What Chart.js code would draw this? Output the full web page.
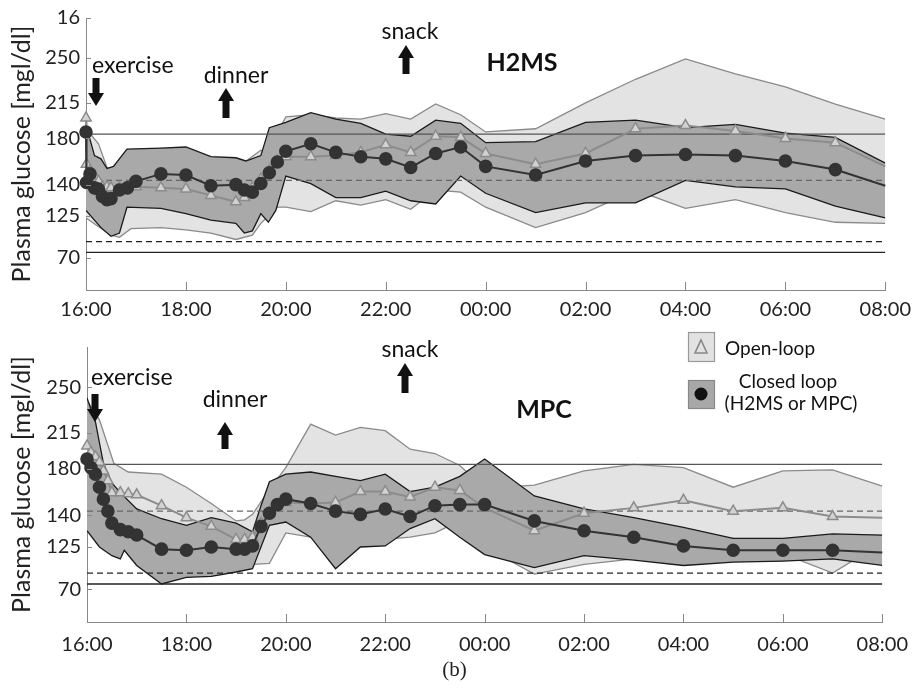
<!DOCTYPE html>
<html>
<head>
<meta charset="utf-8">
<script src="https://cdn.jsdelivr.net/npm/chart.js@4.4.1/dist/chart.umd.min.js"></script>
<style>
  body { margin: 0; background: #fff; }
  #wrap { position: relative; width: 919px; height: 689px; }
  canvas { position: absolute; left: 0; }
  #topChart { top: 0; }
  #bottomChart { top: 320px; }
  #caption { position: absolute; top: 657px; left: -5px; width: 919px; text-align: center;
             font: 21px 'Liberation Serif', serif; color: #222; }
</style>
</head>
<body>
<div id="wrap">
  <canvas id="topChart" width="919" height="320"></canvas>
  <canvas id="bottomChart" width="919" height="340"></canvas>
  <div id="caption">(b)</div>
</div>
<script>
// hours after 16:00
const h2msTimes = [0, 0.01, 0.08, 0.17, 0.25, 0.33, 0.42, 0.5, 0.67, 0.83, 1, 1.5, 2, 2.5, 3, 3.17, 3.33, 3.5, 3.67, 3.83, 4, 4.5, 5, 5.5, 6, 6.5, 7, 7.5, 8, 9, 10, 11, 12, 13, 14, 15, 16];
const h2msClosed = [182, 135, 143, 130, 129, 122, 119, 120, 128, 130, 136, 143, 142, 132, 133, 128, 126, 134, 144, 154, 164, 171, 163, 159, 157, 149, 162, 168, 150, 142, 155, 160, 161, 160, 155, 147, 132];
const h2msOpen = [195, 152, 146, 141, 136, 131, 131, 130, 130, 130, 131, 130, 129, 123, 117, 121, 130, 138, 146, 155, 159, 159, 160, 163, 170, 163, 178, 177, 162, 152, 162, 185, 188, 183, 176, 172, 150];

const h2msClosedHiT = [0, 0.05, 0.17, 0.3, 0.42, 0.55, 0.82, 1.5, 2, 2.5, 3, 3.2, 3.5, 3.67, 4, 4.5, 5, 5.5, 6, 6.5, 7, 7.5, 8, 9, 10, 11, 12, 13, 14, 15, 16];
const h2msClosedHi = [174, 180, 160, 157, 148, 150, 166, 167, 168, 159, 158, 155, 160, 186, 191, 200, 194, 190, 180, 178, 193, 190, 172, 173, 191, 193, 186, 189, 181, 177, 153];
const h2msClosedLoT = [0, 0.3, 0.5, 0.67, 0.82, 1.5, 2, 2.5, 3, 3.17, 3.33, 3.5, 3.65, 3.8, 4, 4.5, 5, 5.5, 6, 6.5, 7, 7.5, 8, 9, 10, 11, 12, 13, 14, 15, 16];
const h2msClosedLo = [109, 93, 85, 88, 112, 111, 106, 100, 97, 88, 90, 106, 98, 109, 141, 134, 121, 121, 127, 118, 115, 141, 125, 107, 116, 116, 137, 131, 129, 113, 102];
const h2msOpenHiT = [0, 0.25, 0.42, 0.67, 1, 1.5, 2, 2.5, 3, 3.5, 3.67, 3.83, 4, 4.5, 5, 5.5, 6, 6.5, 7, 7.5, 8, 9, 10, 11, 12, 13, 14, 15, 16];
const h2msOpenHi = [185, 171, 149, 148, 158, 160, 158, 149, 148, 165, 161, 181, 196, 198, 195, 194, 199, 194, 208, 198, 182, 185, 209, 231, 250, 236, 224, 208, 194];
const h2msOpenLoT = [0, 0.5, 0.67, 0.9, 1.5, 2, 2.5, 3, 3.33, 3.5, 3.83, 4, 4.5, 5, 5.5, 6, 6.5, 7, 7.5, 8, 9, 10, 11, 12, 13, 14, 15, 16];
const h2msOpenLo = [102, 86, 84, 92, 93, 91, 88, 82, 86, 97, 112, 112, 108, 118, 114, 119, 110, 128, 126, 112, 93, 107, 128, 111, 119, 107, 98, 97];

const mpcTimes = [0, 0.08, 0.17, 0.25, 0.33, 0.42, 0.5, 0.67, 0.83, 1, 1.5, 2, 2.5, 3, 3.17, 3.33, 3.5, 3.67, 3.83, 4, 4.5, 5, 5.5, 6, 6.5, 7, 7.5, 8, 9, 10, 11, 12, 13, 14, 15, 16];
const mpcClosed = [185, 177, 171, 159, 148, 137, 126, 120, 118, 115, 102, 101, 104, 102, 102, 105, 123, 135, 143, 148, 144, 137, 134, 139, 132, 142, 143, 143, 128, 119, 113, 105, 101, 101, 101, 99];
const mpcOpen = [197, 191, 187, 182, 174, 165, 154, 154, 153, 152, 142, 131, 123, 111, 111, 113, 126, 136, 141, 145, 144, 145, 155, 155, 150, 159, 156, 140, 119, 135, 140, 147, 137, 140, 132, 131];

const mpcClosedHiT = [0, 0.17, 0.33, 0.5, 0.67, 1, 1.5, 2, 2.5, 3, 3.33, 3.5, 3.67, 4, 4.5, 5, 5.5, 6, 6.5, 7, 7.5, 8, 9, 10, 11, 12, 13, 14, 15, 16];
const mpcClosedHi = [241, 219, 181, 163, 154, 139, 130, 124, 131, 126, 118, 142, 164, 171, 173, 169, 165, 171, 155, 159, 169, 185, 151, 139, 131, 122, 112, 112, 116, 115];
const mpcClosedLoT = [0, 0.25, 0.5, 0.67, 0.75, 1, 1.5, 2, 2.5, 3, 3.33, 3.67, 4, 4.5, 5, 5.5, 6, 6.5, 7, 7.5, 8, 9, 10, 11, 12, 13, 14, 15, 16];
const mpcClosedLo = [119, 104, 96, 93, 101, 87, 70, 76, 77, 81, 84, 124, 127, 113, 84, 104, 105, 121, 130, 113, 97, 85, 96, 92, 87, 90, 91, 93, 87];
const mpcOpenHiT = [0, 0.25, 0.54, 0.83, 1.5, 2, 2.5, 3, 3.17, 3.33, 3.67, 4, 4.5, 5, 5.5, 6, 6.5, 7, 7.5, 8, 9, 10, 11, 12, 13, 14, 15, 16];
const mpcOpenHi = [239, 221, 181, 173, 171, 159, 144, 128, 129, 134, 157, 177, 217, 207, 214, 211, 194, 190, 179, 158, 161, 174, 180, 177, 159, 174, 175, 160];
const mpcOpenLoT = [0, 0.5, 1, 1.5, 2, 2.5, 3, 3.33, 3.67, 4, 4.5, 5, 5.5, 6, 6.5, 7, 7.5, 8, 9, 10, 11, 12, 13, 14, 15, 16];
const mpcOpenLo = [128, 133, 114, 103, 99, 95, 91, 88, 89, 117, 113, 105, 117, 111, 113, 117, 128, 104, 79, 88, 93, 113, 112, 98, 80, 108];

// reference levels and y tick labels
const upperLimit = 180, upperTarget = 137, lowerTarget = 80, lowerLimit = 70;
const yTickValues = [65, 104, 133, 176, 209, 251, 288];
const yTickLabels = ['70', '125', '140', '180', '215', '250', '16'];

const FONT = "Lato";

function pts(t, v) { return t.map((x, i) => ({ x: x, y: v[i] })); }

function refLine(y, color, dash) {
  return { data: [{ x: 0, y: y }, { x: 16, y: y }], borderColor: color, borderWidth: 1.4,
           borderDash: dash, pointRadius: 0, fill: false, order: 5 };
}

function blockArrow(ctx, cx, y1, y2, up) {
  const hw = 8, sw = 3.5, hl = 13;
  ctx.beginPath();
  if (up) {
    ctx.moveTo(cx, y1); ctx.lineTo(cx + hw, y1 + hl); ctx.lineTo(cx + sw, y1 + hl);
    ctx.lineTo(cx + sw, y2); ctx.lineTo(cx - sw, y2); ctx.lineTo(cx - sw, y1 + hl);
    ctx.lineTo(cx - hw, y1 + hl);
  } else {
    ctx.moveTo(cx, y2); ctx.lineTo(cx + hw, y2 - hl); ctx.lineTo(cx + sw, y2 - hl);
    ctx.lineTo(cx + sw, y1); ctx.lineTo(cx - sw, y1); ctx.lineTo(cx - sw, y2 - hl);
    ctx.lineTo(cx - hw, y2 - hl);
  }
  ctx.closePath();
  ctx.fillStyle = '#111';
  ctx.fill();
}

const decor = {
  id: 'decor',
  afterDraw(chart, args, opts) {
    const ctx = chart.ctx;
    const xs = chart.scales.x, ys = chart.scales.y;
    ctx.save();
    // inward tick marks
    ctx.strokeStyle = '#888';
    ctx.lineWidth = 1;
    for (let v = 0; v <= 16; v += 2) {
      const px = Math.round(xs.getPixelForValue(v)) + 0.5;
      ctx.beginPath(); ctx.moveTo(px, ys.bottom); ctx.lineTo(px, ys.bottom - 8); ctx.stroke();
    }
    ys.ticks.forEach(t => {
      const py = Math.round(ys.getPixelForValue(t.value)) + 0.5;
      ctx.beginPath(); ctx.moveTo(xs.left, py); ctx.lineTo(xs.left + 5, py); ctx.stroke();
    });
    // event labels and arrows
    ctx.fillStyle = '#111';
    ctx.textBaseline = 'middle';
    (opts.texts || []).forEach(t => {
      ctx.font = (t.bold ? 'bold ' : '') + t.size + 'px ' + FONT;
      ctx.textAlign = t.align || 'center';
      ctx.fillText(t.text, t.x, t.y);
    });
    (opts.arrows || []).forEach(a => blockArrow(ctx, a.x, a.y1, a.y2, a.up));
    // custom legend
    if (opts.legend) {
      const L = opts.legend;
      ctx.lineWidth = 1.2;
      ctx.fillStyle = '#e2e2e2'; ctx.strokeStyle = '#999';
      ctx.fillRect(L.x, L.y1, 26, 29); ctx.strokeRect(L.x + 0.5, L.y1 + 0.5, 26, 29);
      ctx.strokeStyle = '#888'; ctx.lineWidth = 1.6;
      ctx.beginPath();
      ctx.moveTo(L.x + 13, L.y1 + 8); ctx.lineTo(L.x + 19, L.y1 + 21); ctx.lineTo(L.x + 7, L.y1 + 21);
      ctx.closePath(); ctx.stroke();
      ctx.lineWidth = 1.2;
      ctx.fillStyle = '#a8a8a8'; ctx.strokeStyle = '#888';
      ctx.fillRect(L.x, L.y2, 26, 28); ctx.strokeRect(L.x + 0.5, L.y2 + 0.5, 26, 28);
      ctx.fillStyle = '#111';
      ctx.beginPath(); ctx.arc(L.x + 13, L.y2 + 14, 6.5, 0, Math.PI * 2); ctx.fill();
      ctx.font = '19px ' + FONT;
      ctx.textAlign = 'left';
      ctx.fillText('Open-loop', L.x + 37, L.y1 + 17);
      ctx.textAlign = 'center';
      ctx.fillText('Closed loop', L.x + 100, L.y2 + 2);
      ctx.fillText('(H2MS or MPC)', L.x + 103, L.y2 + 24);
    }
    ctx.restore();
  }
};

function makeChart(id, s) {
  const datasets = [
    { data: pts(s.times, s.closed), borderColor: '#333', borderWidth: 2,
      pointRadius: c => (c.raw && c.raw.x === 16 ? 0 : 5.8), pointBackgroundColor: '#333',
      pointBorderColor: '#333', clip: false, order: 0 },
    { data: pts(s.times, s.open), borderColor: '#8c8c8c', borderWidth: 2, pointStyle: 'triangle',
      pointRadius: c => (c.raw && c.raw.x === 16 ? 0 : 6), pointBackgroundColor: '#d2d2d2',
      pointBorderColor: '#8c8c8c', pointBorderWidth: 1.5, clip: false, order: 1 },
    refLine(upperLimit, '#555', []),
    refLine(upperTarget, '#666', [6, 4]),
    refLine(lowerTarget, '#222', [6, 4]),
    refLine(lowerLimit, '#222', []),
    { data: pts(s.cHiT, s.cHi), borderColor: '#1a1a1a', borderWidth: 1.3, pointRadius: 0,
      backgroundColor: '#a9a9a9', fill: '+1', order: 7 },
    { data: pts(s.cLoT, s.cLo), borderColor: '#1a1a1a', borderWidth: 1.3, pointRadius: 0,
      fill: false, order: 6 },
    { data: pts(s.oHiT, s.oHi), borderColor: '#8a8a8a', borderWidth: 1.3, pointRadius: 0,
      backgroundColor: '#e3e3e3', fill: '+1', order: 9 },
    { data: pts(s.oLoT, s.oLo), borderColor: '#8a8a8a', borderWidth: 1.3, pointRadius: 0,
      fill: false, order: 8 }
  ];
  return new Chart(document.getElementById(id), {
    type: 'line',
    data: { datasets: datasets },
    plugins: [decor],
    options: {
      responsive: false,
      devicePixelRatio: 1,
      animation: false,
      layout: { padding: { top: s.padTop, right: s.padRight, left: 0, bottom: 0 } },
      elements: { line: { tension: 0 } },
      plugins: {
        legend: { display: false },
        tooltip: { enabled: false },
        decor: { texts: s.texts, arrows: s.arrows, legend: s.legend }
      },
      scales: {
        x: {
          type: 'linear', min: 0, max: 16,
          afterFit: sc => { sc.height = s.xHeight; },
          grid: { display: false, drawTicks: false },
          border: { display: true, color: '#888', width: 1 },
          ticks: {
            stepSize: 2, padding: s.xPad, color: '#222', font: { family: FONT, size: 20 },
            maxRotation: 0,
            callback: v => String((16 + v) % 24).padStart(2, '0') + ':00'
          }
        },
        y: {
          min: 35, max: 288,
          afterFit: sc => { sc.width = s.yWidth; },
          afterBuildTicks: sc => { sc.ticks = s.yTicks.map(v => ({ value: v })); },
          grid: { display: false, drawTicks: false },
          border: { display: true, color: '#888', width: 1 },
          ticks: {
            autoSkip: false, padding: 6, color: '#222', font: { family: FONT, size: 20 },
            callback: v => yTickLabels[yTickValues.indexOf(v)]
          },
          title: {
            display: true, text: 'Plasma glucose [mgl/dl]', color: '#222',
            font: { family: FONT, size: 25 }, padding: { top: 7, bottom: 0 }
          }
        }
      }
    }
  });
}

makeChart('topChart', {
  times: h2msTimes, closed: h2msClosed, open: h2msOpen,
  cHiT: h2msClosedHiT, cHi: h2msClosedHi, cLoT: h2msClosedLoT, cLo: h2msClosedLo,
  oHiT: h2msOpenHiT, oHi: h2msOpenHi, oLoT: h2msOpenLoT, oLo: h2msOpenLo,
  yTicks: yTickValues,
  padTop: 16, padRight: 30, yWidth: 86, xHeight: 30, xPad: 8,
  texts: [
    { text: 'exercise', x: 92, y: 66, size: 23, align: 'left' },
    { text: 'dinner', x: 236, y: 76, size: 23 },
    { text: 'snack', x: 410, y: 32, size: 23 },
    { text: 'H2MS', x: 522, y: 63, size: 25, bold: true }
  ],
  arrows: [
    { x: 96, y1: 78, y2: 106, up: false },
    { x: 226, y1: 88, y2: 118, up: true },
    { x: 406, y1: 45, y2: 74, up: true }
  ]
});

makeChart('bottomChart', {
  times: mpcTimes, closed: mpcClosed, open: mpcOpen,
  cHiT: mpcClosedHiT, cHi: mpcClosedHi, cLoT: mpcClosedLoT, cLo: mpcClosedLo,
  oHiT: mpcOpenHiT, oHi: mpcOpenHi, oLoT: mpcOpenLoT, oLo: mpcOpenLo,
  yTicks: yTickValues.slice(0, 6),
  padTop: 27, padRight: 29, yWidth: 87, xHeight: 38, xPad: 11,
  texts: [
    { text: 'exercise', x: 91, y: 58, size: 23, align: 'left' },
    { text: 'dinner', x: 235, y: 80, size: 23 },
    { text: 'snack', x: 410, y: 30, size: 23 },
    { text: 'MPC', x: 544, y: 90, size: 25, bold: true }
  ],
  arrows: [
    { x: 95, y1: 74, y2: 102, up: false },
    { x: 225, y1: 102, y2: 129, up: true },
    { x: 405, y1: 43, y2: 73, up: true }
  ],
  legend: { x: 688, y1: 12, y2: 60 }
});
</script>
</body>
</html>
